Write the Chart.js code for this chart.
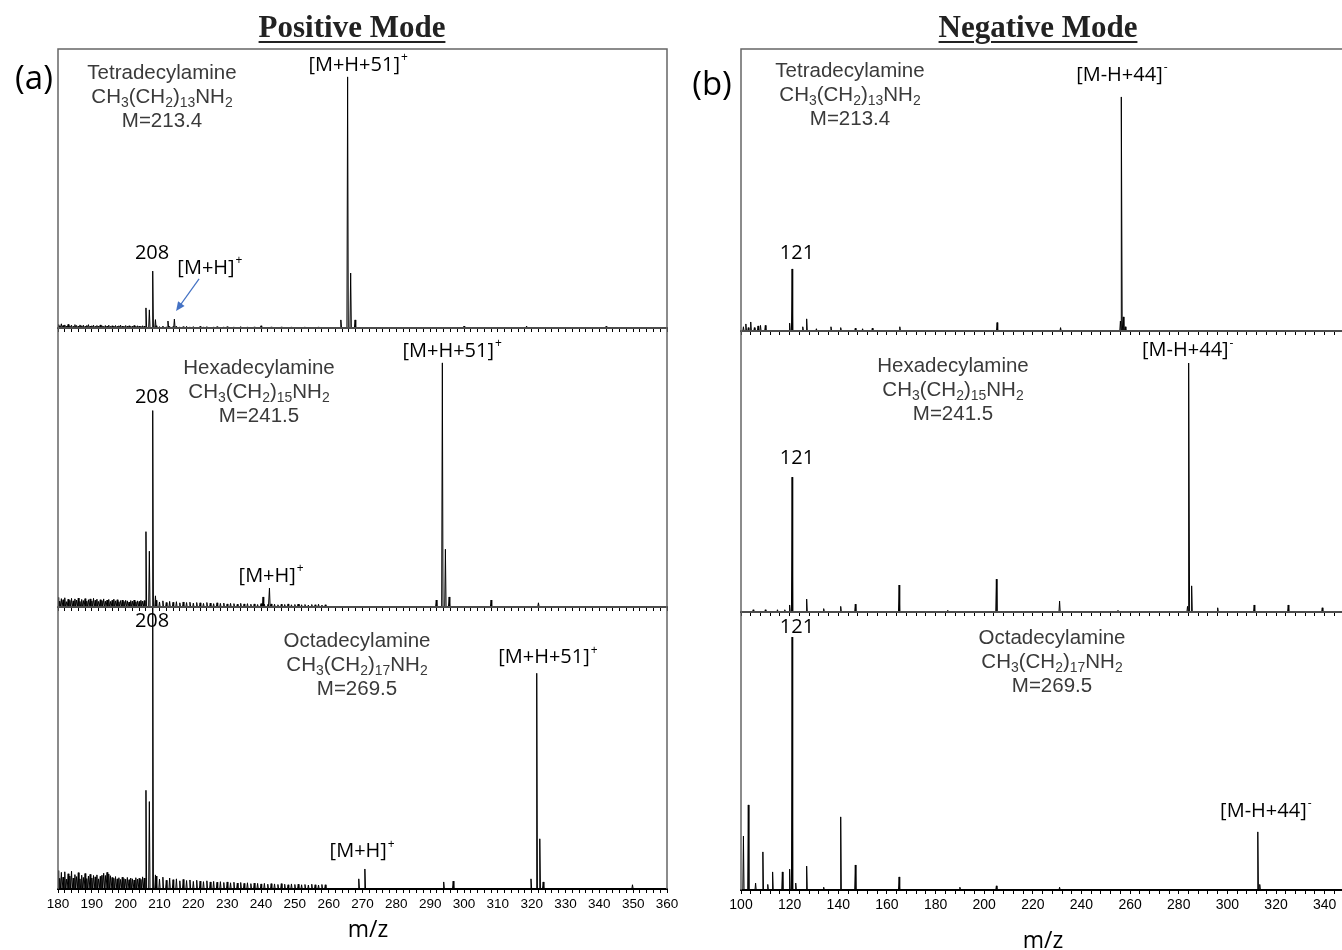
<!DOCTYPE html>
<html>
<head>
<meta charset="utf-8">
<script src="https://cdn.jsdelivr.net/npm/chart.js@4.4.1/dist/chart.umd.min.js"></script>
<style>
body{margin:0;width:1342px;height:950px;overflow:hidden;background:#fff;position:relative}
canvas{position:absolute}
.txt{position:absolute;transform:translate(-50%,-50%);white-space:nowrap;z-index:5}
.title{font:bold 31px 'Liberation Serif',serif;color:#222;text-decoration:underline;text-decoration-thickness:2px;text-underline-offset:4px}
.tag{font:33px 'Open Sans',sans-serif;color:#000}
.axt{font:23px 'Open Sans',sans-serif;color:#000}
.cmp{position:absolute;transform:translateX(-50%);text-align:center;font:20.5px 'Liberation Sans',Arial,sans-serif;color:#3a3a3a;line-height:24px;white-space:nowrap;z-index:5}
.cmp sub{font-size:0.68em;vertical-align:-0.3em;line-height:0}
</style>
</head>
<body>
<script>
// compounds
const names=["Tetradecylamine","Hexadecylamine","Octadecylamine"];
const chainN=[13,15,17];
const masses=["213.4","241.5","269.5"];

// axis ranges and tick labels
const posRange=[180,360];
const negRange=[100,350];
const posTickLabels=[180,190,200,210,220,230,240,250,260,270,280,290,300,310,320,330,340,350,360];
const negTickLabels=[100,120,140,160,180,200,220,240,260,280,300,320,340];

// ---- positive mode peaks (m/z, relative intensity) ----
const posTetraMz =[206,207,208,208.8,212.5,214.4,240,263.6,265.6,266.5,267.8,300,318.5,342];
const posTetraInt=[7.2,6.5,20.4,3.0,2.5,3.2,0.8,2.9,90,19.7,2.9,0.7,0.7,0.6];
const posHexaMz  =[206,207,208,208.8,240.6,242.5,251,291.8,293.6,294.5,295.6,308,322];
const posHexaInt =[27,20,70.4,4,3.6,6.8,1.0,2.5,87.5,20.7,3.6,2.5,1.5];
const posOctaMz  =[206,207,208,208.8,268.9,270.7,294,296.8,319.8,321.5,322.4,323.4,349.8];
const posOctaInt =[35,31,100,5,3.6,7.1,2.5,2.8,3.6,76.5,17.8,2.5,1.5];

// baseline noise, m/z 180..205.5 every 0.5 and 209..259 every 1
const noiseStart=180, noiseStep=0.5, tailStart=209, tailStep=1;
const posTetraNoise=[1.2,0.8,1.5,0.9,1.1,0.7,1.3,0.8,1.0,0.6,1.2,0.9,0.7,1.1,0.8,1.0,0.6,0.9,1.2,0.7,0.8,1.0,0.6,0.9,0.7,1.1,0.8,0.6,0.9,0.7,1.0,0.6,0.8,0.7,0.9,0.6,0.8,1.0,0.7,0.6,0.9,0.7,0.8,0.6,0.7,0.9,0.6,0.8,0.7,0.6,0.8,0.7];
const posTetraTail=[0.8,0.5,0.7,0.4,0.6,0.5,0.7,0.4,0.5,0.6,0.4,0.5,0.3,0.6,0.4,0.5,0.3,0.4,0.5,0.3,0.4,0.5,0.3,0.4,0.3,0.5,0.3,0.4,0.3,0.4,0.3,0.4,0.3,0.3,0.4,0.3,0.3,0.4,0.3,0.3,0.4,0.3,0.3,0.3,0.4,0.3,0.3,0.3,0.4,0.3,0.3];
const posHexaNoise=[3.4,2.1,3.0,2.6,3.3,1.9,2.8,2.4,3.1,2.2,2.9,2.5,3.2,2.0,2.7,2.3,3.0,2.1,2.6,2.9,2.2,3.1,2.4,2.8,2.0,2.6,2.3,2.9,2.1,2.5,2.7,2.0,2.4,2.8,2.2,2.6,1.9,2.3,2.5,2.0,2.4,2.2,1.8,2.3,2.1,2.5,1.9,2.2,2.0,2.4,2.1,2.3];
const posHexaTail=[2.4,1.8,2.2,1.6,2.0,1.7,1.9,1.5,1.8,1.6,1.7,1.4,1.6,1.5,1.3,1.6,1.4,1.2,1.5,1.3,1.4,1.1,1.3,1.2,1.0,1.3,1.1,1.2,1.0,1.1,0.9,1.2,1.0,0.9,1.1,1.0,0.8,1.0,0.9,1.1,0.8,0.9,1.0,0.8,0.9,0.7,0.9,0.8,1.0,0.7,0.8];
const posOctaNoise=[6.5,3.8,5.9,4.2,6.1,3.5,5.4,4.6,6.3,3.9,5.1,4.4,5.8,3.6,4.9,4.1,5.5,3.7,4.6,5.2,3.9,4.8,4.3,5.0,3.6,4.5,4.9,5.6,4.8,5.9,5.3,4.7,4.1,3.8,4.4,3.6,4.0,3.4,4.2,3.7,3.5,4.1,3.3,3.9,3.6,3.2,4.0,3.5,3.8,3.4,4.3,3.9];
const posOctaTail=[4.6,3.5,4.2,3.1,3.9,3.3,3.6,2.9,3.4,3.0,3.2,2.7,3.1,2.8,2.6,2.9,2.5,2.7,2.4,2.6,2.3,2.5,2.2,2.4,2.1,2.3,2.0,2.2,1.9,2.1,2.0,1.8,2.0,1.7,1.9,1.8,1.6,1.9,1.7,1.5,1.8,1.6,1.7,1.5,1.6,1.4,1.7,1.5,1.4,1.6,1.5];

// ---- negative mode peaks ----
const negTetraMz =[101,102,103,104,105.5,107,108,110,120,121,125.4,127,131,137,141,147,150,154,165.3,205.3,231.4,256,256.5,257.2,258];
const negTetraInt=[1.5,2.5,1.2,3.2,1.2,1.8,2.0,2.0,2.8,22,1.5,4.3,0.8,1.5,1.2,1.0,0.8,1.0,1.5,3.0,1.2,3.5,83,5.0,1.5];
const negHexaMz  =[105,110,115,118,120,121,127,134,141,147,165,185,205,231,255,283.6,284.2,285.3,296,311,325,339];
const negHexaInt =[0.8,0.8,0.8,0.8,2.5,48,4.6,1.2,2.0,2.8,9.6,0.6,11.7,3.9,0.6,2.0,88.6,9.3,1.5,2.5,2.5,1.5];
const negOctaMz  =[101,103,106,109,111,113,117,120,121,122.5,127,134,141,147,165,190,205,231,312.5,313.3];
const negOctaInt =[19.4,30.6,2.5,13.7,2.0,6.5,6.5,7.5,91,2.5,8.6,1.0,26.3,9.0,4.7,1.0,1.5,1.0,20.9,2.0];

// peak annotations (m/z and intensity at the label centre)
const posTetraNotes=[{text:"[M+H+51]",sup:"+",mz:268.7,at:94.3},{text:"208",mz:207.8,at:26.9},{text:"[M+H]",sup:"+",mz:224.9,at:21.5}];
const posTetraArrow={from:[221.7,17.6],to:[214.9,6.1]};
const posHexaNotes=[{text:"[M+H+51]",sup:"+",mz:296.5,at:91.8},{text:"208",mz:207.8,at:75},{text:"[M+H]",sup:"+",mz:243,at:11.1}];
const posOctaNotes=[{text:"208",mz:207.8,at:95},{text:"[M+H+51]",sup:"+",mz:324.8,at:82.2},{text:"[M+H]",sup:"+",mz:269.9,at:13.2}];
const negTetraNotes=[{text:"[M-H+44]",sup:"-",mz:256.6,at:90.8},{text:"121",mz:123,at:27.7}];
const negHexaNotes=[{text:"[M-H+44]",sup:"-",mz:283.7,at:93.2},{text:"121",mz:123,at:54.8}];
const negOctaNotes=[{text:"121",mz:123,at:94.6},{text:"[M-H+44]",sup:"-",mz:315.8,at:28.4}];

function pairs(mz,ints){return mz.map((m,i)=>[m,ints[i]]);}
function series(start,step,vals){return vals.map((v,i)=>[start+i*step,v]);}
function sticks(list,w){
    const pts=[];
    list.slice().sort((a,b)=>a[0]-b[0]).forEach(([m,h])=>{
        pts.push({x:m-w,y:0},{x:m,y:h},{x:m+w,y:0});
    });
    return pts;
}

const decor={
    id:"decor",
    afterDatasetsDraw(chart,args,o){
        const {ctx,chartArea:a,scales:{x,y}}=chart;
        ctx.save();
        ctx.strokeStyle="#666";ctx.lineWidth=1.5;
        ctx.beginPath();
        ctx.moveTo(a.left,a.bottom);ctx.lineTo(a.left,a.top);ctx.lineTo(a.right,a.top);ctx.lineTo(a.right,a.bottom);
        ctx.stroke();
        ctx.fillStyle="#000";ctx.textBaseline="middle";ctx.textAlign="left";
        (o.notes||[]).forEach(n=>{
            const big="20px 'Open Sans'",small="12px 'Open Sans'";
            ctx.font=big;const tw=ctx.measureText(n.text).width;
            ctx.font=small;const sw=n.sup?ctx.measureText(n.sup).width+1:0;
            const px=x.getPixelForValue(n.mz)-(tw+sw)/2, py=y.getPixelForValue(n.at);
            ctx.font=big;ctx.fillText(n.text,px,py);
            if(n.sup){ctx.font=small;ctx.fillText(n.sup,px+tw+1,py-7);}
        });
        if(o.arrow){
            const x1=x.getPixelForValue(o.arrow.from[0]),y1=y.getPixelForValue(o.arrow.from[1]);
            const x2=x.getPixelForValue(o.arrow.to[0]),y2=y.getPixelForValue(o.arrow.to[1]);
            const ang=Math.atan2(y2-y1,x2-x1);
            ctx.strokeStyle="#4472C4";ctx.fillStyle="#4472C4";ctx.lineWidth=1.2;
            ctx.beginPath();ctx.moveTo(x1,y1);ctx.lineTo(x2-6*Math.cos(ang),y2-6*Math.sin(ang));ctx.stroke();
            ctx.beginPath();ctx.moveTo(x2,y2);
            ctx.lineTo(x2-9*Math.cos(ang)+4*Math.sin(ang),y2-9*Math.sin(ang)-4*Math.cos(ang));
            ctx.lineTo(x2-9*Math.cos(ang)-4*Math.sin(ang),y2-9*Math.sin(ang)+4*Math.cos(ang));
            ctx.closePath();ctx.fill();
        }
        ctx.restore();
    }
};

function panel(p){
    const padL=30,padR=30,padT=20,bottomH=p.last?34:6;
    const c=document.createElement("canvas");
    const w=p.plotW+padL+padR, h=padT+(p.axis-p.top)+bottomH;
    c.width=w;c.height=h;
    c.style.left=(p.plotLeft-padL)+"px";c.style.top=(p.top-padT)+"px";
    document.body.appendChild(c);
    new Chart(c,{
        type:"line",
        data:{datasets:[{data:sticks(p.peaks,p.w),borderColor:"#000",borderWidth:1,pointRadius:0,tension:0}]},
        options:{
            responsive:false,animation:false,
            layout:{padding:{left:padL,right:padR,top:padT,bottom:0}},
            plugins:{legend:{display:false},tooltip:{enabled:false},decor:{notes:p.notes,arrow:p.arrow}},
            scales:{
                x:{type:"linear",min:p.range[0],max:p.range[1],
                   afterFit:s=>{s.height=bottomH;},
                   border:{display:true,color:"#000",width:2},
                   grid:{drawOnChartArea:false,drawTicks:true,tickLength:4,color:"#000",lineWidth:1},
                   ticks:{display:p.last,stepSize:p.step,autoSkip:false,maxRotation:0,padding:3,color:"#000",
                          font:{family:"'Liberation Sans', Arial, sans-serif",size:p.fs},
                          callback:v=>p.labels.includes(v)?String(v):""}},
                y:{display:false,min:0,max:100}
            }
        },
        plugins:[decor]
    });
}

const posCol={plotLeft:58,plotW:609,range:posRange,step:2,labels:posTickLabels,fs:13.5,w:0.2};
const negCol={plotLeft:741,plotW:608,range:negRange,step:4,labels:negTickLabels,fs:14,w:0.25};

panel({...posCol,top:49,axis:328,last:false,notes:posTetraNotes,arrow:posTetraArrow,
    peaks:pairs(posTetraMz,posTetraInt).concat(series(noiseStart,noiseStep,posTetraNoise),series(tailStart,tailStep,posTetraTail))});
panel({...posCol,top:328,axis:607,last:false,notes:posHexaNotes,
    peaks:pairs(posHexaMz,posHexaInt).concat(series(noiseStart,noiseStep,posHexaNoise),series(tailStart,tailStep,posHexaTail))});
panel({...posCol,top:607,axis:889,last:true,notes:posOctaNotes,
    peaks:pairs(posOctaMz,posOctaInt).concat(series(noiseStart,noiseStep,posOctaNoise),series(tailStart,tailStep,posOctaTail))});
panel({...negCol,top:49,axis:331,last:false,notes:negTetraNotes,peaks:pairs(negTetraMz,negTetraInt)});
panel({...negCol,top:331,axis:612,last:false,notes:negHexaNotes,peaks:pairs(negHexaMz,negHexaInt)});
panel({...negCol,top:612,axis:890,last:true,notes:negOctaNotes,peaks:pairs(negOctaMz,negOctaInt)});

// text outside the plots
function addText(cls,html,x,y){
    const d=document.createElement("div");d.className=cls;d.innerHTML=html;
    d.style.left=x+"px";d.style.top=y+"px";document.body.appendChild(d);
}
addText("txt title","Positive Mode",352,27);
addText("txt title","Negative Mode",1038,27);
addText("txt tag","(a)",34,76);
addText("txt tag","(b)",712,82);
addText("txt axt","m/z",368,928);
addText("txt axt","m/z",1043,939);
const cmpPos=[[162,60],[259,355],[357,628],[850,58],[953,353],[1052,625]];
cmpPos.forEach(([x,y],i)=>{
    const k=i%3;
    addText("cmp",names[k]+"<br>CH<sub>3</sub>(CH<sub>2</sub>)<sub>"+chainN[k]+"</sub>NH<sub>2</sub><br>M="+masses[k],x,y);
});
</script>
</body>
</html>
